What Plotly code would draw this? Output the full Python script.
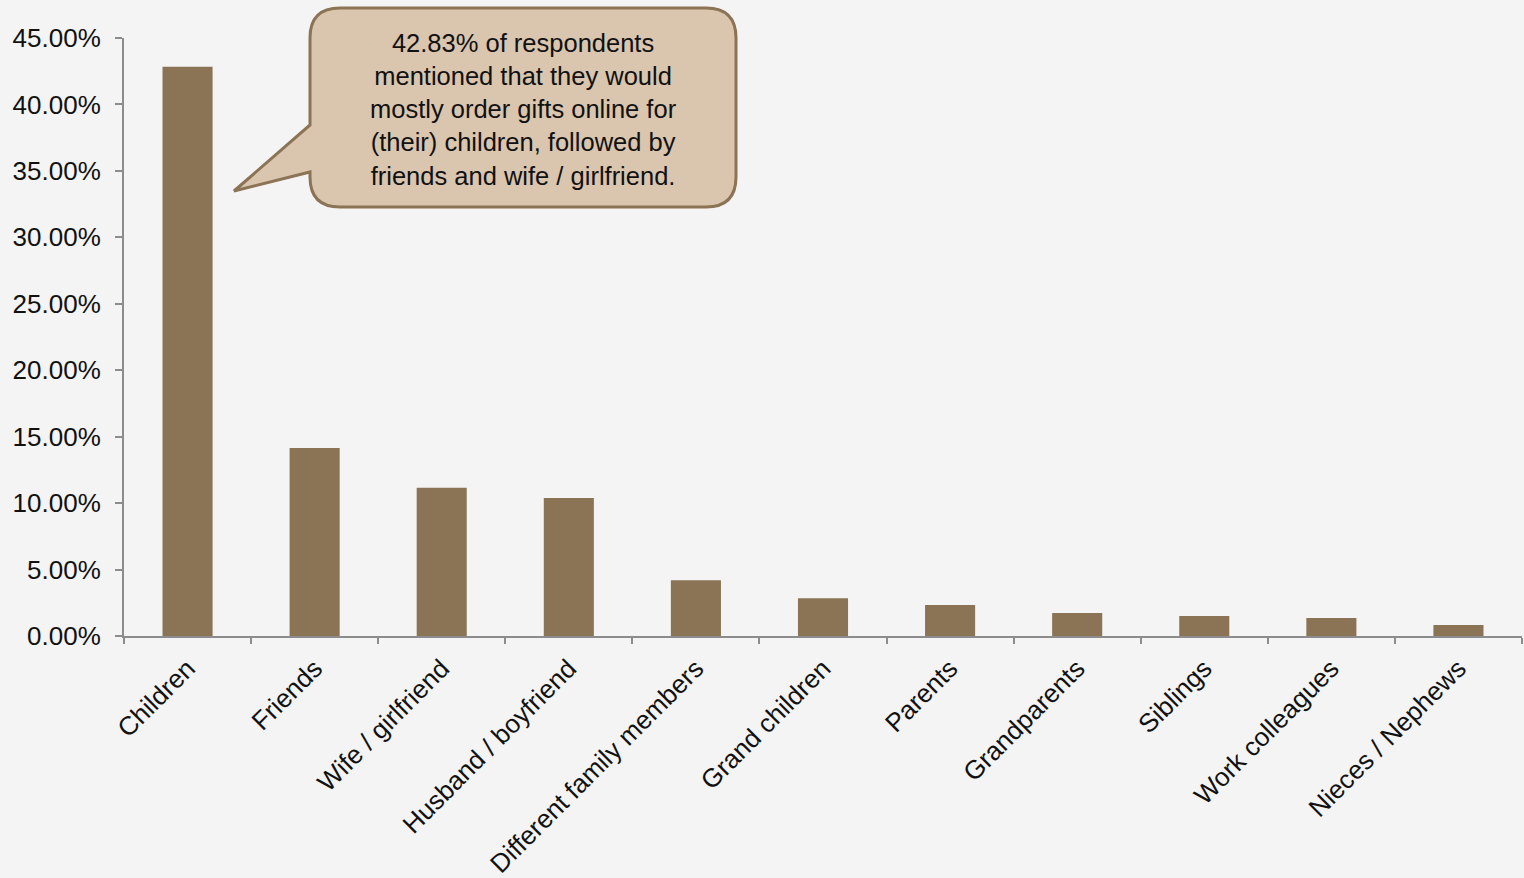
import plotly.graph_objects as go

categories = ["Children", "Friends", "Wife / girlfriend", "Husband / boyfriend",
              "Different family members", "Grand children", "Parents",
              "Grandparents", "Siblings", "Work colleagues", "Nieces / Nephews"]
values = [42.83, 14.15, 11.15, 10.38, 4.2, 2.85, 2.33, 1.73, 1.5, 1.35, 0.83]
y_ticks = [0, 5, 10, 15, 20, 25, 30, 35, 40, 45]
y_tick_labels = [f"{v:.2f}%" for v in y_ticks]

callout_text = ("42.83% of respondents<br>mentioned that they would<br>"
                "mostly order gifts online for<br>(their) children, followed by<br>"
                "friends and wife / girlfriend.")

W, H = 1524, 878
ML, MR, MT, MB = 124, 2, 38, 242
PW, PH = W - ML - MR, H - MT - MB

def px(x):
    return (x - ML) / PW

def py(y):
    return (H - MB - y) / PH

fig = go.Figure()
fig.add_trace(go.Bar(
    x=categories, y=values,
    marker=dict(color="#8b7355", line=dict(width=0)),
    hoverinfo="x+y",
))

# callout bubble
L, R, T, B, r = 310, 736, 8, 207, 30
def P(x, y):
    return f"{px(x):.5f},{py(y):.5f}"
path = (f"M {P(L+r,T)} L {P(R-r,T)} Q {P(R,T)} {P(R,T+r)} "
        f"L {P(R,B-r)} Q {P(R,B)} {P(R-r,B)} L {P(L+r,B)} Q {P(L,B)} {P(L,B-r)} "
        f"L {P(L,172)} L {P(234,191)} L {P(L,125)} L {P(L,T+r)} Q {P(L,T)} {P(L+r,T)} Z")
fig.add_shape(type="path", path=path, xref="paper", yref="paper",
              fillcolor="#dac5ae", line=dict(color="#8b7355", width=3), layer="above")
fig.add_annotation(x=px((L + R) / 2), y=py((T + B) / 2 + 2), xref="paper", yref="paper",
                   xanchor="center", yanchor="middle",
                   text=callout_text, showarrow=False, align="center",
                   font=dict(family="Liberation Sans, Arial", size=25.5, color="#111111"))

fig.update_layout(
    width=W, height=H,
    margin=dict(l=ML, r=MR, t=MT, b=MB, pad=0, autoexpand=False),
    paper_bgcolor="#f4f4f4", plot_bgcolor="#f4f4f4",
    bargap=0.606, showlegend=False,
    font=dict(family="Liberation Sans, Arial", size=26, color="#111111"),
    xaxis=dict(
        tickangle=-45, showgrid=False, showline=True, linecolor="#8c8c8c", linewidth=2,
        ticks="outside", tickson="boundaries", ticklen=6, tickcolor="#8c8c8c", tickwidth=2,
        tickfont=dict(size=26), ticklabelstandoff=5, automargin=False,
    ),
    yaxis=dict(
        range=[0, 45], tickvals=y_ticks, ticktext=y_tick_labels,
        showgrid=False, showline=True, linecolor="#8c8c8c", linewidth=2, zeroline=False,
        ticks="outside", ticklen=7, tickcolor="#8c8c8c", tickwidth=2,
        tickfont=dict(size=26), ticklabelstandoff=9, automargin=False,
    ),
)

fig.write_html("out.html", config={"displayModeBar": False},
               post_script="document.body.style.margin='0';document.body.style.overflow='hidden';")
